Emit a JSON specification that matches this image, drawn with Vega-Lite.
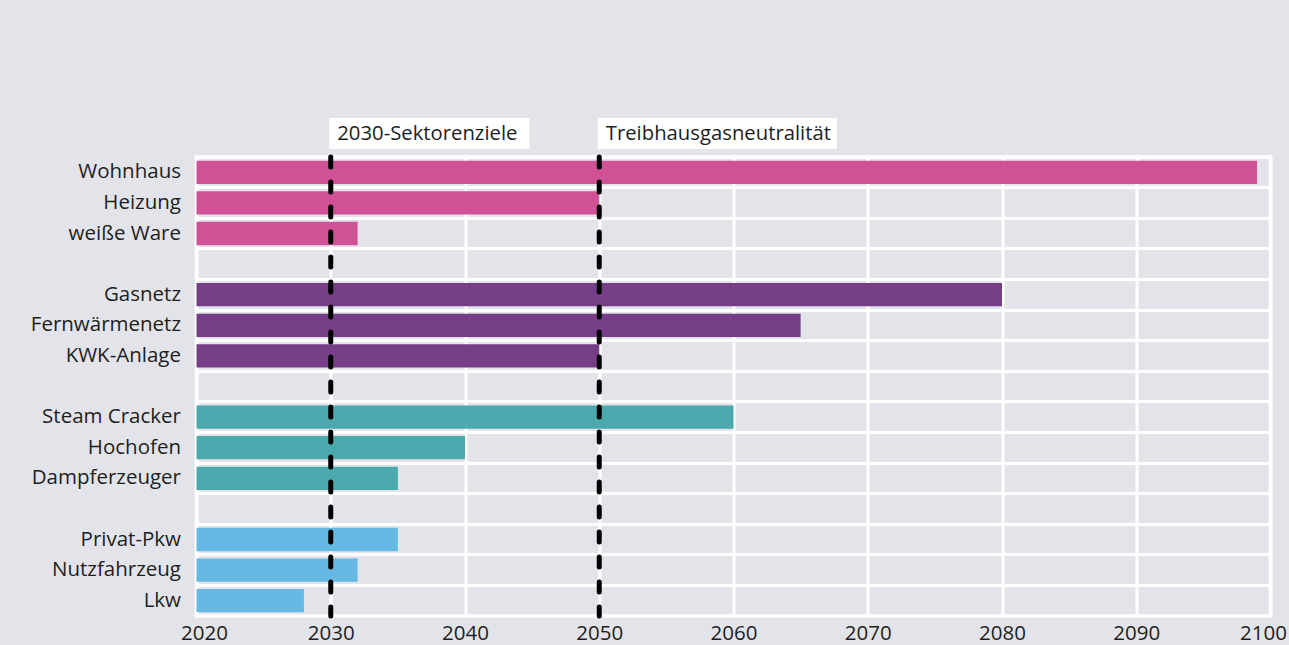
{
  "$schema": "https://vega.github.io/schema/vega-lite/v6.json",
  "background": "#e3e4e9",
  "padding": {"left": 28.5, "top": 118, "right": 0, "bottom": 0},
  "bounds": "flush",
  "spacing": 8,
  "config": {
    "font": "Open Sans",
    "view": {"stroke": null}
  },
  "datasets": {
    "laufzeiten": [
      {"anlage": "Wohnhaus", "sektor": "Gebäude", "bis": 2099},
      {"anlage": "Heizung", "sektor": "Gebäude", "bis": 2050},
      {"anlage": "weiße Ware", "sektor": "Gebäude", "bis": 2032},
      {"anlage": "Gasnetz", "sektor": "Energie", "bis": 2080},
      {"anlage": "Fernwärmenetz", "sektor": "Energie", "bis": 2065},
      {"anlage": "KWK-Anlage", "sektor": "Energie", "bis": 2050},
      {"anlage": "Steam Cracker", "sektor": "Industrie", "bis": 2060},
      {"anlage": "Hochofen", "sektor": "Industrie", "bis": 2040},
      {"anlage": "Dampferzeuger", "sektor": "Industrie", "bis": 2035},
      {"anlage": "Privat-Pkw", "sektor": "Verkehr", "bis": 2035},
      {"anlage": "Nutzfahrzeug", "sektor": "Verkehr", "bis": 2032},
      {"anlage": "Lkw", "sektor": "Verkehr", "bis": 2028}
    ],
    "marken": [
      {"jahr": 2030, "bezeichnung": "2030-Sektorenziele", "ende": 2044.8},
      {"jahr": 2050, "bezeichnung": "Treibhausgasneutralität", "ende": 2067.7}
    ]
  },
  "vconcat": [
    {
      "width": 1074,
      "height": 31,
      "data": {"name": "marken"},
      "layer": [
        {
          "mark": {"type": "rect", "fill": "white", "xOffset": -1.5},
          "encoding": {
            "x": {"field": "jahr", "type": "quantitative", "scale": {"domain": [2020, 2100], "nice": false, "zero": false}, "axis": null},
            "x2": {"field": "ende"}
          }
        },
        {
          "mark": {"type": "text", "align": "left", "baseline": "middle", "dx": 6.5, "fontSize": 20.3, "color": "#1e1e1e"},
          "encoding": {
            "x": {"field": "jahr", "type": "quantitative", "scale": {"domain": [2020, 2100], "nice": false, "zero": false}, "axis": null},
            "text": {"field": "bezeichnung"}
          }
        }
      ]
    },
    {
      "width": 1074,
      "height": 459,
      "view": {"fill": "#e3e4e9", "stroke": "white", "strokeWidth": 3.5},
      "layer": [
        {
          "data": {"name": "laufzeiten"},
          "mark": {"type": "bar", "height": {"band": 0.76}},
          "encoding": {
            "y": {
              "field": "anlage",
              "type": "nominal",
              "scale": {
                "domain": ["Wohnhaus", "Heizung", "weiße Ware", "_1", "Gasnetz", "Fernwärmenetz", "KWK-Anlage", "_2", "Steam Cracker", "Hochofen", "Dampferzeuger", "_3", "Privat-Pkw", "Nutzfahrzeug", "Lkw"],
                "paddingInner": 0,
                "paddingOuter": 0
              },
              "axis": {
                "title": null,
                "domain": false,
                "ticks": false,
                "labelPadding": 16,
                "labelFontSize": 20.5,
                "labelColor": "#1e1e1e",
                "grid": true,
                "gridColor": "white",
                "gridWidth": 3,
                "bandPosition": 0,
                "labelExpr": "test(/^_/, datum.value) ? '' : datum.value"
              }
            },
            "x": {
              "field": "bis",
              "type": "quantitative",
              "scale": {"domain": [2020, 2100], "nice": false, "zero": false},
              "axis": {
                "title": null,
                "domain": false,
                "ticks": false,
                "values": [2020, 2030, 2040, 2050, 2060, 2070, 2080, 2090, 2100],
                "format": "d",
                "labelFontSize": 20.5,
                "labelColor": "#1e1e1e",
                "labelPadding": 7,
                "labelFlush": true,
                "labelFlushOffset": 16,
                "grid": true,
                "gridColor": "white",
                "gridWidth": 3
              }
            },
            "x2": {"datum": 2020},
            "color": {
              "field": "sektor",
              "type": "nominal",
              "scale": {"domain": ["Gebäude", "Energie", "Industrie", "Verkehr"], "range": ["#d05195", "#753e87", "#4aaaae", "#66b9e3"]},
              "legend": null
            }
          }
        },
        {
          "data": {"name": "marken"},
          "mark": {"type": "rule", "strokeDash": [10, 15], "strokeWidth": 5, "strokeCap": "round", "color": "black"},
          "encoding": {
            "x": {"field": "jahr", "type": "quantitative"}
          }
        }
      ]
    }
  ]
}
